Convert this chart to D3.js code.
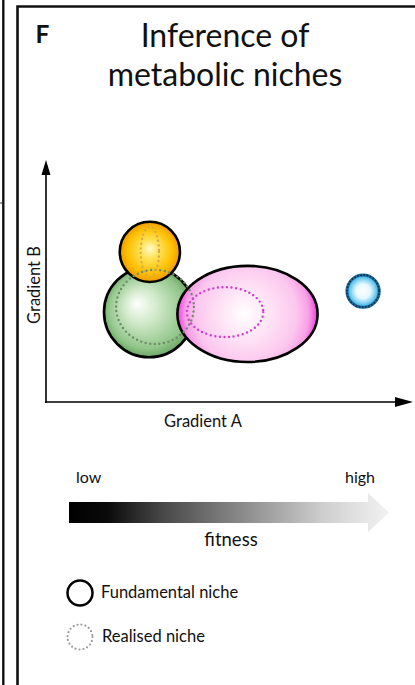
<!DOCTYPE html>
<html>
<head>
<meta charset="utf-8">
<script src="https://cdn.jsdelivr.net/npm/d3@7/dist/d3.min.js"></script>
<style>
  html, body { margin: 0; padding: 0; background: #fff; }
  svg { display: block; }
  text { font-family: Lato, "Open Sans", sans-serif; fill: #111; }
</style>
</head>
<body>
<svg id="chart" width="415" height="685"></svg>
<script>
// Niche shapes in gradient units (x: Gradient A, y: Gradient B)
const nicheNames = ["green", "orange", "pink", "blue"];
const fundCx = [28.1, 28.3, 54.9, 86.4];
const fundCy = [24.5, 40.9, 24.0, 30.2];
const fundRx = [12.3, 8.2, 19.1, 4.4];
const fundRy = [12.3, 8.2, 13.1, 4.4];
const realCx = [29.7, 28.3, 48.8, 86.4];
const realCy = [25.9, 40.9, 24.5, 30.2];
const realRx = [10.6, 2.5, 10.4, 4.4];
const realRy = [10.1, 6.8, 6.8, 4.4];

const axisLabels = ["Gradient A", "Gradient B"];
const fitnessLabels = ["low", "high"];
const legendLabels = ["Fundamental niche", "Realised niche"];

const svg = d3.select("#chart");
const defs = svg.append("defs");

// panel frame
svg.append("line").attr("x1", 3.3).attr("x2", 3.3).attr("y1", 0).attr("y2", 685)
  .attr("stroke", "#111").attr("stroke-width", 2.4);
svg.append("line").attr("x1", 0).attr("x2", 3).attr("y1", 203).attr("y2", 203)
  .attr("stroke", "#333").attr("stroke-width", 1);
svg.append("path").attr("d", "M17.5,685 L17.5,6.5 L415,6.5")
  .attr("fill", "none").attr("stroke", "#111").attr("stroke-width", 2.6);

svg.append("text").attr("x", 35.5).attr("y", 43).attr("font-size", 24.5)
  .attr("font-weight", "bold").attr("font-family", "Liberation Sans, Arial, sans-serif").text("F");

const title = svg.append("text").attr("text-anchor", "middle").attr("font-size", 32);
title.append("tspan").attr("x", 225).attr("y", 47).text("Inference of");
title.append("tspan").attr("x", 225).attr("y", 86).text("metabolic niches");

// axes
const x0 = 46, x1 = 413, y0 = 402, yTop = 160;
const k = (x1 - x0) / 100;
const x = d3.scaleLinear().domain([0, 100]).range([x0, x1]);
const y = d3.scaleLinear().domain([0, (y0 - yTop) / k]).range([y0, yTop]);

const g = svg.append("g");

g.append("line").attr("x1", x0).attr("x2", x0).attr("y1", y0 + 1).attr("y2", yTop + 12)
  .attr("stroke", "#000").attr("stroke-width", 1.6);
g.append("path").attr("d", `M${x0 - 4.5},${yTop + 15} L${x0},${yTop} L${x0 + 4.5},${yTop + 15} Z`).attr("fill", "#000");
g.append("line").attr("x1", x0 - 1).attr("x2", x1 - 14).attr("y1", y0).attr("y2", y0)
  .attr("stroke", "#000").attr("stroke-width", 1.6);
g.append("path").attr("d", `M${x1 - 18},${y0 - 5} L${x1},${y0} L${x1 - 18},${y0 + 5} Z`).attr("fill", "#000");

g.append("text").attr("x", 203).attr("y", 427).attr("text-anchor", "middle")
  .attr("font-size", 16.5).text(axisLabels[0]);
g.append("text").attr("transform", "translate(40,285) rotate(-90)").attr("text-anchor", "middle")
  .attr("font-size", 16.5).text(axisLabels[1]);

// shading for each niche
const shades = {
  green:  { stops: [[0, "#ffffff"], [0.35, "#d2eacb"], [0.8, "#92c68a"], [1, "#63a05c"]], fx: -0.28, fy: -0.2, r: 1.05 },
  orange: { stops: [[0, "#fffbd0"], [0.3, "#ffe35a"], [0.75, "#ffbf00"], [1, "#f09a00"]], fx: 0.0, fy: -0.12, r: 1.0 },
  pink:   { stops: [[0, "#ffffff"], [0.3, "#ffe8f7"], [0.72, "#fcc6ee"], [0.88, "#f8a0e6"], [1, "#f03ce0"]], fx: -0.05, fy: 0.0, r: 1.0 },
  blue:   { stops: [[0, "#ffffff"], [0.45, "#e8f8ff"], [0.75, "#7fd2f4"], [1, "#2ba6de"]], fx: 0, fy: 0, r: 1.0 }
};

nicheNames.forEach((n, i) => {
  const s = shades[n];
  const cx = x(fundCx[i]), cy = y(fundCy[i]);
  const R = fundRx[i] * k * s.r;
  const grad = defs.append("radialGradient").attr("id", "grad-" + n)
    .attr("gradientUnits", "userSpaceOnUse")
    .attr("cx", cx).attr("cy", cy).attr("r", R)
    .attr("fx", cx + s.fx * fundRx[i] * k).attr("fy", cy + s.fy * fundRy[i] * k);
  s.stops.forEach(([o, c]) => grad.append("stop").attr("offset", o).attr("stop-color", c));
});

// fundamental niches: green first, orange on top of it, pink over green
const order = [0, 1, 2, 3];
g.selectAll("ellipse.fund").data(order).join("ellipse")
  .attr("class", "fund")
  .attr("cx", i => x(fundCx[i])).attr("cy", i => y(fundCy[i]))
  .attr("rx", i => fundRx[i] * k).attr("ry", i => fundRy[i] * k)
  .attr("fill", i => `url(#grad-${nicheNames[i]})`)
  .attr("stroke", i => nicheNames[i] === "blue" ? "#1d6fa0" : "#000")
  .attr("stroke-width", i => nicheNames[i] === "blue" ? 3 : 2.6);

// realised niches (dotted)
const dotColor = { green: "#6e8c6a", orange: "#d9a84a", pink: "#d23ccf", blue: "#0f2f48" };
g.selectAll("ellipse.real").data(order).join("ellipse")
  .attr("class", "real")
  .attr("cx", i => x(realCx[i])).attr("cy", i => y(realCy[i]))
  .attr("rx", i => realRx[i] * k).attr("ry", i => realRy[i] * k)
  .attr("fill", "none")
  .attr("stroke", i => dotColor[nicheNames[i]])
  .attr("stroke-width", i => nicheNames[i] === "blue" ? 2 : 2.4)
  .attr("stroke-linecap", "round")
  .attr("stroke-dasharray", i => nicheNames[i] === "blue" ? "0 3.2" : "0 4.6");

// fitness scale
const fit = defs.append("linearGradient").attr("id", "fitness")
  .attr("gradientUnits", "userSpaceOnUse").attr("x1", 69).attr("x2", 388).attr("y1", 0).attr("y2", 0);
[[0, "#000"], [0.12, "#0a0a0a"], [0.3, "#4a4a4a"], [0.55, "#8c8c8c"], [0.8, "#cfcfcf"], [1, "#f2f2f2"]]
  .forEach(([o, c]) => fit.append("stop").attr("offset", o).attr("stop-color", c));
svg.append("path")
  .attr("d", "M69,502 L368,502 L368,493 L389,512.5 L368,532 L368,523 L69,523 Z")
  .attr("fill", "url(#fitness)");
svg.append("text").attr("x", 76).attr("y", 483).attr("font-size", 16).text(fitnessLabels[0]);
svg.append("text").attr("x", 375).attr("y", 483).attr("text-anchor", "end").attr("font-size", 16).text(fitnessLabels[1]);
svg.append("text").attr("x", 231).attr("y", 546).attr("text-anchor", "middle").attr("font-size", 18.5).text("fitness");

// legend
svg.append("circle").attr("cx", 80).attr("cy", 593).attr("r", 12.5)
  .attr("fill", "none").attr("stroke", "#000").attr("stroke-width", 2.5);
svg.append("text").attr("x", 101).attr("y", 598).attr("font-size", 16.5).text(legendLabels[0]);
svg.append("circle").attr("cx", 80).attr("cy", 637).attr("r", 12.5)
  .attr("fill", "none").attr("stroke", "#9a9a9a").attr("stroke-width", 2.2)
  .attr("stroke-linecap", "round").attr("stroke-dasharray", "0 4");
svg.append("text").attr("x", 102).attr("y", 642).attr("font-size", 16.5).text(legendLabels[1]);
</script>
</body>
</html>
